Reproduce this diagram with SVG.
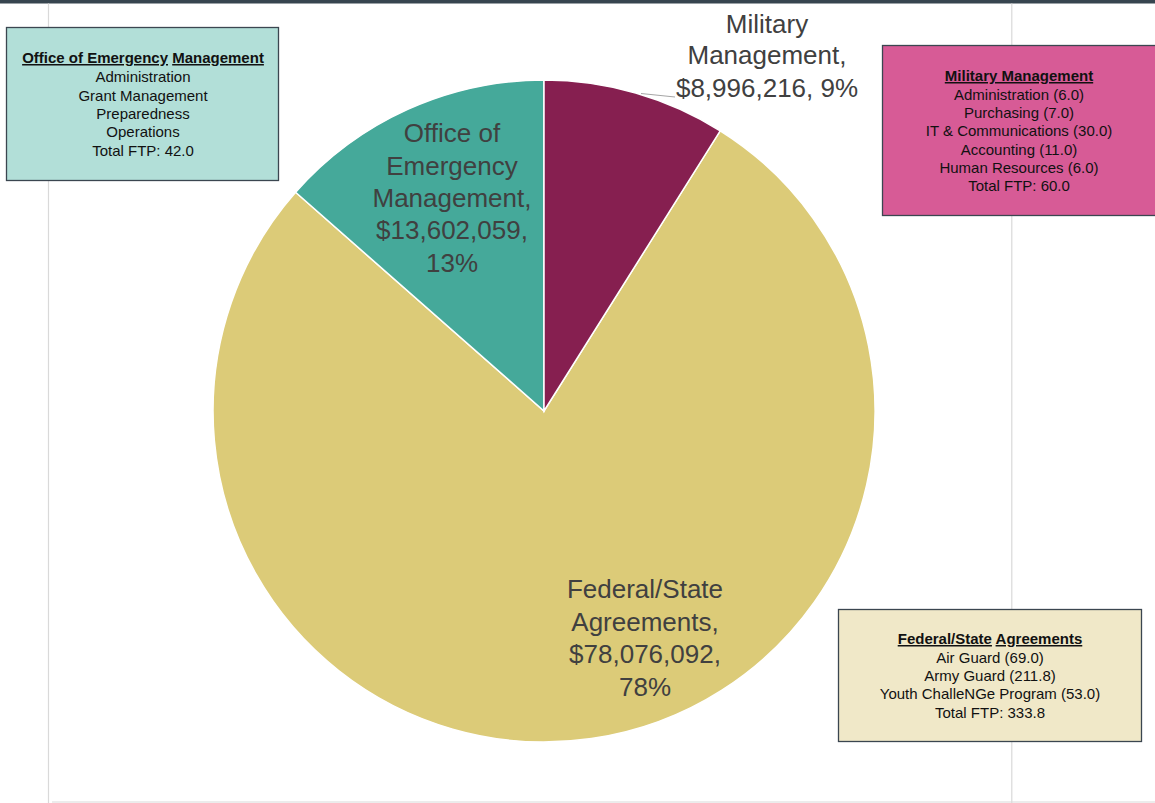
<svg xmlns="http://www.w3.org/2000/svg" width="1155" height="803" viewBox="0 0 1155 803">
<style>
.grid{stroke:#d9d9d9;stroke-width:1.2;fill:none}
.slice{stroke:#ffffff;stroke-width:1.5}
.plabel{font-family:"Liberation Sans",Arial,sans-serif;font-size:26px;fill:#404040;text-anchor:middle}
.box{stroke:#3b4650;stroke-width:1.3}
.btxt{font-family:"Liberation Sans",Arial,sans-serif;font-size:15px;fill:#111111;text-anchor:middle}
.btitle{font-weight:bold}
.ul{text-decoration:underline}
</style>
<rect x="0" y="0" width="1155" height="803" fill="#ffffff"/>
<rect x="0" y="0" width="1155" height="3.5" fill="#37454f"/>
<g id="gridlines">
<line class="grid" x1="48.5" y1="3.5" x2="48.5" y2="803"/>
<line class="grid" x1="1011.8" y1="3.5" x2="1011.8" y2="803"/>
<line class="grid" x1="52" y1="802" x2="1155" y2="802"/>
</g>
<g id="pie">
<path id="slice-federal" class="slice" fill="#dccb78" d="M544,411 L720.2,130.8 A331,331 0 1 1 295.6,192.3 Z"/>
<path id="slice-oem" class="slice" fill="#45a99a" d="M544,411 L295.6,192.3 A331,331 0 0 1 544,80 Z"/>
<path id="slice-military" class="slice" fill="#861f50" d="M544,411 L544,80 A331,331 0 0 1 720.2,130.8 Z"/>
</g>
<g id="connectors">
<line x1="641" y1="93.5" x2="675" y2="97" stroke="#a6a6a6" stroke-width="1"/>
</g>
<g id="label-military">
<text class="plabel" x="767" y="33">Military</text>
<text class="plabel" x="767" y="64">Management,</text>
<text class="plabel" x="767" y="97">$8,996,216, 9%</text>
</g>
<g id="label-oem">
<text class="plabel" x="452" y="142">Office of</text>
<text class="plabel" x="452" y="175">Emergency</text>
<text class="plabel" x="452" y="207">Management,</text>
<text class="plabel" x="452" y="239">$13,602,059,</text>
<text class="plabel" x="452" y="272">13%</text>
</g>
<g id="label-federal">
<text class="plabel" x="645" y="598">Federal/State</text>
<text class="plabel" x="645" y="631">Agreements,</text>
<text class="plabel" x="645" y="663">$78,076,092,</text>
<text class="plabel" x="645" y="696">78%</text>
</g>
<g id="box-oem">
<rect class="box" x="6.5" y="27.5" width="272" height="153" fill="#b2dfd8"/>
<text class="btxt btitle" x="143" y="63"><tspan class="ul">Office of Emergency</tspan> <tspan class="ul">Management</tspan></text>
<text class="btxt" x="143" y="82">Administration</text>
<text class="btxt" x="143" y="101">Grant Management</text>
<text class="btxt" x="143" y="119">Preparedness</text>
<text class="btxt" x="143" y="137">Operations</text>
<text class="btxt" x="143" y="156">Total FTP: 42.0</text>
</g>
<g id="box-military">
<rect class="box" x="882.5" y="45.5" width="280" height="170" fill="#d75b96"/>
<text class="btxt btitle ul" x="1019" y="81">Military Management</text>
<text class="btxt" x="1019" y="100">Administration (6.0)</text>
<text class="btxt" x="1019" y="118">Purchasing (7.0)</text>
<text class="btxt" x="1019" y="136">IT &amp; Communications (30.0)</text>
<text class="btxt" x="1019" y="155">Accounting (11.0)</text>
<text class="btxt" x="1019" y="173">Human Resources (6.0)</text>
<text class="btxt" x="1019" y="191">Total FTP: 60.0</text>
</g>
<g id="box-federal">
<rect class="box" x="838.5" y="609.5" width="303" height="132" fill="#f0e8c8"/>
<text class="btxt btitle" x="990" y="644"><tspan class="ul">Federal/State</tspan> <tspan class="ul">Agreements</tspan></text>
<text class="btxt" x="990" y="663">Air Guard (69.0)</text>
<text class="btxt" x="990" y="681">Army Guard (211.8)</text>
<text class="btxt" x="990" y="699">Youth ChalleNGe Program (53.0)</text>
<text class="btxt" x="990" y="718">Total FTP: 333.8</text>
</g>
</svg>
